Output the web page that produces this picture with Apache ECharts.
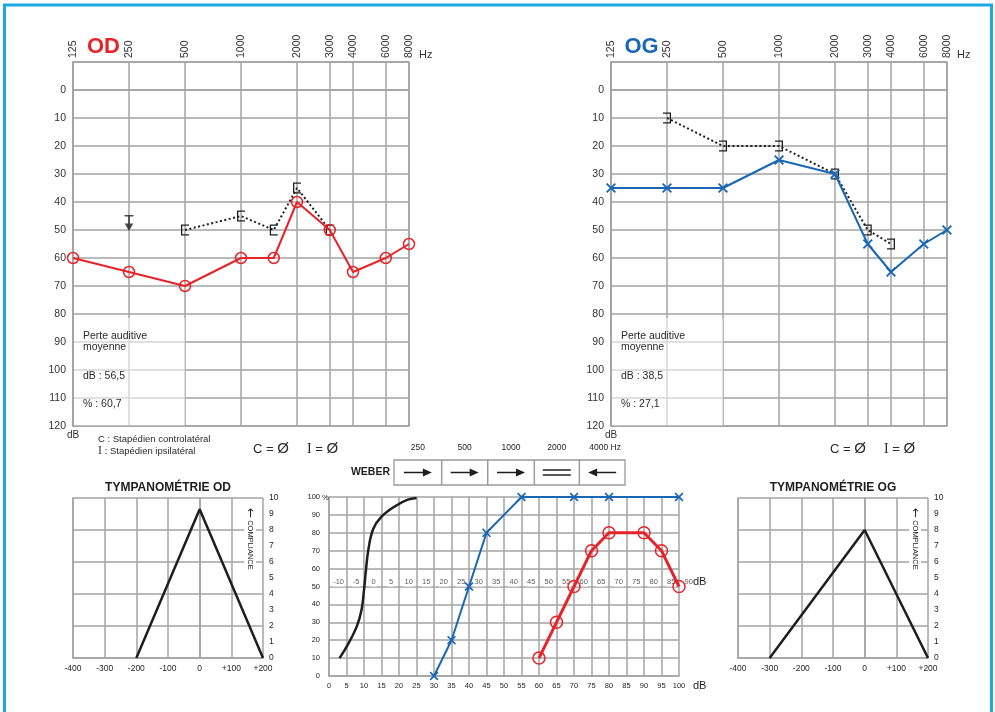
<!DOCTYPE html>
<html><head><meta charset="utf-8">
<script src="https://cdn.jsdelivr.net/npm/echarts@6/dist/echarts.min.js"></script>
<style>html,body{margin:0;padding:0;background:#fff}#c{width:995px;height:712px}</style>
</head><body><div id="c"></div>
<script>
// ---------------- DATA ----------------
const freqTicks = [125, 250, 500, 1000, 2000, 3000, 4000, 6000, 8000];
const dbMin = -10, dbMax = 120;

const odAirFreq = [125, 250, 500, 1000, 1500, 2000, 3000, 4000, 6000, 8000];
const odAirDb   = [60, 65, 70, 60, 60, 40, 50, 65, 60, 55];
const odBoneFreq = [500, 1000, 1500, 2000, 3000];
const odBoneDb   = [50, 45, 50, 35, 50];
const odNoRespFreq = [250];
const odNoRespDb   = [47.5];

const ogAirFreq = [125, 250, 500, 1000, 2000, 3000, 4000, 6000, 8000];
const ogAirDb   = [35, 35, 35, 25, 30, 55, 65, 55, 50];
const ogBoneFreq = [250, 500, 1000, 2000, 3000, 4000];
const ogBoneDb   = [10, 20, 20, 30, 50, 55];

const odSummary = ['Perte auditive', 'moyenne', 'dB : 56,5', '% : 60,7'];
const ogSummary = ['Perte auditive', 'moyenne', 'dB : 38,5', '% : 27,1'];

const tympOdPressure = [-200, 0, 200];
const tympOdCompliance = [0, 9.3, 0];
const tympOgPressure = [-300, 0, 200];
const tympOgCompliance = [0, 8, 0];

const speechRefDb  = [3, 5.5, 8, 9.3, 10, 10.5, 11.2, 12.6, 15, 19, 22.5, 25];
const speechRefPct = [10, 18, 28, 37, 48, 58, 70, 82, 89, 95, 98.5, 99.5];
const speechOgDb  = [30, 35, 40, 45, 50, 55, 70, 80, 100];
const speechOgPct = [0, 20, 50, 80, 90, 100, 100, 100, 100];
const speechOgMarked = [true, true, true, true, false, true, true, true, true];
const speechOdDb  = [60, 65, 70, 75, 80, 90, 95, 100];
const speechOdPct = [10, 30, 50, 70, 80, 80, 70, 50];
const speechMidLabels = [-10, -5, 0, 5, 10, 15, 20, 25, 30, 35, 40, 45, 50, 55, 60, 65, 70, 75, 80, 85, 90];

const weberFreqs = ['250', '500', '1000', '2000', '4000 Hz'];
const weberSigns = ['right', 'right', 'right', 'equal', 'left'];

// ---------------- STYLE ----------------
const FONT = "'Liberation Sans', Arial, sans-serif";
const GRID = '#a3a3a3';
const RED = '#e52329';
const BLUE = '#1866b4';
const INK = '#1e1e1e';
const TXT = '#333';

const SYM_X  = 'path://M0,1.3L1.3,0L5,3.7L8.7,0L10,1.3L6.3,5L10,8.7L8.7,10L5,6.3L1.3,10L0,8.7L3.7,5Z';
const SYM_BL = 'path://M0,0H8V1.3H1.3V9.7H8V11H0Z';
const SYM_BR = 'path://M0,0H8V11H0V9.7H6.7V1.3H0Z';
const SYM_ARROW = 'path://M0,0H9V1.5H5.3V8.5H8.8L4.5,16L0.2,8.5H3.7V1.5H0Z';

const oct = f => Math.log2(f / 125);
const pairs = (xs, ys, fx) => xs.map((x, i) => [fx ? fx(x) : x, ys[i]]);
const gl = (w) => ({ lineStyle: { color: GRID, width: w || 1.5 } });

// ---------------- AXES ----------------
function audX(gi) {
  const ticks = freqTicks.map(oct);
  return {
    type: 'value', gridIndex: gi, position: 'top', min: 0, max: 6,
    axisLine: { show: true, ...gl() },
    axisTick: { show: false, customValues: ticks },
    axisLabel: { customValues: ticks, rotate: 90, fontSize: 10.5, color: TXT, fontFamily: FONT, margin: 4,
      formatter: v => String(Math.round(125 * Math.pow(2, v))) },
    splitLine: { show: true, ...gl() }
  };
}
function audY(gi) {
  return {
    type: 'value', gridIndex: gi, inverse: true, min: dbMin, max: dbMax, interval: 10,
    axisLine: { show: true, ...gl() }, axisTick: { show: false },
    axisLabel: { fontSize: 10.5, color: TXT, fontFamily: FONT, margin: 7, formatter: v => v < 0 ? '' : String(v) },
    splitLine: { show: true, ...gl() }
  };
}
function tympX(gi) {
  return {
    type: 'value', gridIndex: gi, min: -400, max: 200, interval: 100,
    axisLine: { show: true, ...gl() }, axisTick: { show: false },
    axisLabel: { fontSize: 8.5, color: INK, fontFamily: FONT, margin: 6, formatter: v => v > 0 ? '+' + v : String(v) },
    splitLine: { show: true, ...gl() }
  };
}
function tympYLabels(gi) {
  return {
    type: 'value', gridIndex: gi, position: 'right', min: 0, max: 10, interval: 1,
    axisLine: { show: true, ...gl() }, axisTick: { show: false },
    axisLabel: { fontSize: 8.5, color: INK, fontFamily: FONT, margin: 6 },
    splitLine: { show: false }
  };
}
function tympYSplit(gi) {
  return {
    type: 'value', gridIndex: gi, position: 'left', min: 0, max: 10, interval: 2,
    axisLine: { show: true, ...gl() }, axisTick: { show: false },
    axisLabel: { show: false }, splitLine: { show: true, ...gl() }
  };
}

const xAxis = [
  audX(0), audX(1), tympX(2),
  { type: 'value', gridIndex: 3, min: 0, max: 100, interval: 5,
    axisLine: { show: true, ...gl() }, axisTick: { show: false },
    axisLabel: { fontSize: 7.5, color: INK, fontFamily: FONT, margin: 6 },
    splitLine: { show: true, ...gl() } },
  tympX(4)
];
const yAxis = [
  audY(0), audY(1), tympYLabels(2), tympYSplit(2),
  { type: 'value', gridIndex: 3, min: 0, max: 100, interval: 10,
    axisLine: { show: true, ...gl() }, axisTick: { show: false },
    axisLabel: { fontSize: 7.5, color: INK, fontFamily: FONT, margin: 9 },
    splitLine: { show: true, ...gl() } },
  tympYLabels(4), tympYSplit(4)
];

const grid = [
  { left: 73, top: 62, width: 336, height: 364, show: true, borderColor: GRID, borderWidth: 1.5 },
  { left: 611, top: 62, width: 336, height: 364, show: true, borderColor: GRID, borderWidth: 1.5 },
  { left: 73, top: 498, width: 190, height: 160 },
  { left: 329, top: 497, width: 350, height: 179 },
  { left: 738, top: 498, width: 190, height: 160 }
];

// ---------------- SERIES ----------------
const circleStyle = (c, bw) => ({ color: 'rgba(255,255,255,0)', borderColor: c, borderWidth: bw });
const series = [
  // OD
  { type: 'line', xAxisIndex: 0, yAxisIndex: 0, data: pairs(odBoneFreq, odBoneDb, oct),
    symbol: SYM_BL, symbolSize: [8, 11], itemStyle: { color: INK },
    lineStyle: { color: INK, width: 2, type: [2, 2.5] }, z: 3 },
  { type: 'line', xAxisIndex: 0, yAxisIndex: 0, data: pairs(odAirFreq, odAirDb, oct),
    symbol: 'circle', symbolSize: 11, itemStyle: circleStyle(RED, 1.5),
    lineStyle: { color: RED, width: 2 }, z: 4 },
  { type: 'scatter', xAxisIndex: 0, yAxisIndex: 0, data: pairs(odNoRespFreq, odNoRespDb, oct),
    symbol: SYM_ARROW, symbolSize: [9, 16], itemStyle: { color: INK }, z: 4 },
  // OG
  { type: 'line', xAxisIndex: 1, yAxisIndex: 1, data: pairs(ogBoneFreq, ogBoneDb, oct),
    symbol: SYM_BR, symbolSize: [8, 11], itemStyle: { color: INK },
    lineStyle: { color: INK, width: 2, type: [2, 2.5] }, z: 3 },
  { type: 'line', xAxisIndex: 1, yAxisIndex: 1, data: pairs(ogAirFreq, ogAirDb, oct),
    symbol: SYM_X, symbolSize: 10, itemStyle: { color: BLUE },
    lineStyle: { color: BLUE, width: 2 }, z: 4 },
  // Tympanometry
  { type: 'line', xAxisIndex: 2, yAxisIndex: 2, data: pairs(tympOdPressure, tympOdCompliance),
    symbol: 'none', lineStyle: { color: INK, width: 2.5 }, z: 4 },
  { type: 'line', xAxisIndex: 4, yAxisIndex: 5, data: pairs(tympOgPressure, tympOgCompliance),
    symbol: 'none', lineStyle: { color: INK, width: 2.5 }, z: 4 },
  // Speech audiometry
  { type: 'scatter', xAxisIndex: 3, yAxisIndex: 4, clip: false, silent: true,
    data: speechMidLabels.map(v => ({ value: [v + 12.75, 52.7], name: String(v) })),
    symbolSize: 1, itemStyle: { color: 'rgba(0,0,0,0)' },
    label: { show: true, position: 'inside', formatter: '{b}', fontSize: 7.5, color: TXT, fontFamily: FONT,
      backgroundColor: '#fff', padding: [1, 1] }, z: 2 },
  { type: 'line', xAxisIndex: 3, yAxisIndex: 4, data: pairs(speechRefDb, speechRefPct),
    smooth: 0.4, symbol: 'none', lineStyle: { color: INK, width: 2.5 }, z: 4 },
  { type: 'line', xAxisIndex: 3, yAxisIndex: 4, clip: false,
    data: speechOgDb.map((x, i) => ({ value: [x, speechOgPct[i]], symbol: speechOgMarked[i] ? SYM_X : 'none' })),
    symbol: SYM_X, symbolSize: 9, itemStyle: { color: BLUE },
    lineStyle: { color: BLUE, width: 2 }, z: 4 },
  { type: 'line', xAxisIndex: 3, yAxisIndex: 4, clip: false, data: pairs(speechOdDb, speechOdPct),
    symbol: 'circle', symbolSize: 12, itemStyle: circleStyle(RED, 1.5),
    lineStyle: { color: RED, width: 3 }, z: 4 }
];

// ---------------- GRAPHICS ----------------
const G = [];
function txt(x, y, text, st, extra) {
  G.push(Object.assign({ type: 'text', x, y, z: 20, silent: true,
    style: Object.assign({ text, fill: TXT, fontSize: 10.5, fontFamily: FONT, align: 'left', verticalAlign: 'middle' }, st || {}) }, extra || {}));
}
function line(x1, y1, x2, y2, stroke, w, z) {
  G.push({ type: 'line', silent: true, z: z || 20, shape: { x1, y1, x2, y2 }, style: { stroke, lineWidth: w } });
}
// frame
G.push({ type: 'rect', silent: true, z: 30, shape: { x: 4.5, y: 5, width: 987, height: 720 },
  style: { fill: 'none', stroke: '#1aa9e2', lineWidth: 3 } });

const serifRich = { s: { fontFamily: "'Liberation Serif', serif", fontSize: 12, fill: TXT } };
const ceqRich = {
  s: { fontFamily: "'Liberation Serif', serif", fontSize: 14, fill: '#2a2a2a' },
  o: { fontFamily: FONT, fontSize: 15, fill: '#2a2a2a' }
};
function audDecor(left, label, color, summary, withLegend) {
  txt(left + 30.5, 47, label, { fill: color, fontSize: 22, fontWeight: 'bold', align: 'center' });
  txt(left + 346, 55, 'Hz', { fontSize: 11 });
  txt(left, 435, 'dB', { fontSize: 10, align: 'center' });
  G.push({ type: 'rect', silent: true, z: 1, shape: { x: left + 1, y: 318, width: 111, height: 107.5 },
    style: { fill: 'rgba(255,255,255,0.55)' } });
  const ys = [336, 347.5, 376, 404];
  summary.forEach((s, i) => txt(left + 10, ys[i], s, { fontSize: 10.5, fill: '#2a2a2a' }));
  if (withLegend) {
    txt(left + 25, 439, 'C : Stapédien controlatéral', { fontSize: 9.5, fill: '#2a2a2a' });
    txt(left + 25, 451, '{s|I} : Stapédien ipsilatéral', { fontSize: 9.5, fill: '#2a2a2a', rich: serifRich });
  }
}
audDecor(73, 'OD', RED, odSummary, true);
audDecor(611, 'OG', BLUE, ogSummary, false);
txt(253, 449, 'C = {o|Ø}     {s|I} = {o|Ø}', { fontSize: 13, fill: '#2a2a2a', rich: ceqRich });
txt(830, 449, 'C = {o|Ø}     {s|I} = {o|Ø}', { fontSize: 13, fill: '#2a2a2a', rich: ceqRich });

// Weber
txt(390, 472, 'WEBER', { fontSize: 10.5, fontWeight: 'bold', align: 'right', fill: INK });
const wEdges = [394, 441.7, 487.7, 534.3, 579.3, 625];
const wTop = 460, wBot = 485, wMid = 472.5;
G.push({ type: 'rect', silent: true, z: 20, shape: { x: wEdges[0], y: wTop, width: wEdges[5] - wEdges[0], height: wBot - wTop },
  style: { fill: 'none', stroke: '#9a9a9a', lineWidth: 1.3 } });
for (let i = 1; i < 5; i++) line(wEdges[i], wTop, wEdges[i], wBot, '#9a9a9a', 1.5);
weberFreqs.forEach((f, i) => {
  const c = (wEdges[i] + wEdges[i + 1]) / 2;
  txt(i === 4 ? c + 3 : c, 448, f, { fontSize: 8.5, align: 'center', fill: INK });
  const sign = weberSigns[i];
  if (sign === 'equal') {
    line(c - 14, wMid - 2.5, c + 14, wMid - 2.5, INK, 1.5);
    line(c - 14, wMid + 2.5, c + 14, wMid + 2.5, INK, 1.5);
  } else {
    const d = sign === 'right' ? 1 : -1;
    line(c - 14 * d, wMid, c + 6 * d, wMid, INK, 1.5);
    G.push({ type: 'polygon', silent: true, z: 20,
      shape: { points: [[c + 5 * d, wMid - 4], [c + 14 * d, wMid], [c + 5 * d, wMid + 4]] }, style: { fill: INK } });
  }
});

// Tympanometry titles + compliance
txt(168, 488, 'TYMPANOMÉTRIE OD', { fontSize: 12, fontWeight: 'bold', align: 'center', fill: INK });
txt(833, 488, 'TYMPANOMÉTRIE OG', { fontSize: 12, fontWeight: 'bold', align: 'center', fill: INK });
const compRich = { a: { fontSize: 12, fontFamily: "'DejaVu Sans', sans-serif", fill: INK } };
txt(250, 508, '{a|←} COMPLIANCE', { fontSize: 7.5, backgroundColor: '#fff', fill: INK, rich: compRich }, { rotation: -Math.PI / 2 });
txt(915, 508, '{a|←} COMPLIANCE', { fontSize: 7.5, backgroundColor: '#fff', fill: INK, rich: compRich }, { rotation: -Math.PI / 2 });

// Speech extras
txt(322, 497.5, '%', { fontSize: 7.5, fill: INK });
txt(693, 582, 'dB', { fontSize: 11, fill: INK });
txt(693, 686, 'dB', { fontSize: 11, fill: INK });

const chart = echarts.init(document.getElementById('c'), null, { renderer: 'canvas' });
chart.setOption({
  animation: false,
  backgroundColor: '#fff',
  textStyle: { fontFamily: FONT },
  grid, xAxis, yAxis, series,
  graphic: { elements: G }
});
</script>
</body></html>
